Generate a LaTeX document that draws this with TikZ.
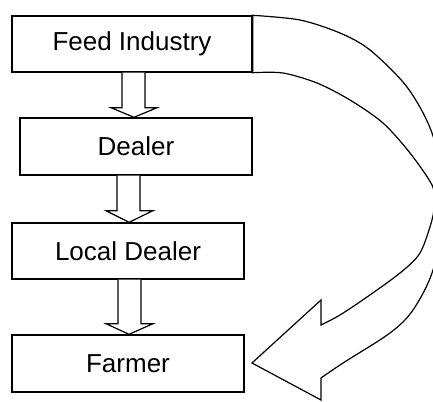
\documentclass[tikz,border=0pt]{standalone}
\usepackage{fontspec}
\setmainfont{Liberation Sans}
\usetikzlibrary{calc}
\begin{document}
\begin{tikzpicture}[x=1pt,y=-1pt,
  box/.style={draw, line width=1.4pt, inner sep=0pt, font=\fontsize{26}{30}\selectfont},
  blk/.style={draw, line width=1.2pt, line join=miter, fill=white},
  curvearrow/.style={draw, line width=1.2pt, line join=miter}]
\useasboundingbox (0,0) rectangle (433,401);
\clip (0,0) rectangle (433,401);
\node[box, minimum width=240pt, minimum height=56pt] (fi) at (132,44) {Feed Industry};
\node[box, minimum width=232pt, minimum height=57pt] (de) at (136,146.5) {Dealer};
\node[box, minimum width=232pt, minimum height=56pt] (ld) at (128,251) {Local Dealer};
\node[box, minimum width=232pt, minimum height=57pt] (fa) at (128,363.5) {Farmer};
% block arrows
\draw[blk] ($(fi.south)+(-10,0)$) -- ++(0,35) -- ++(-11,0) -- ($(de.north)+(-2,0)$)
  -- ($(fi.south)+(25,35)$) -- ++(-12,0) -- ($(fi.south)+(13,0)$);
\draw[blk] ($(de.south)+(-19,0)$) -- ++(0,35) -- ++(-11,0) -- ($(ld.north)+(1,0)$)
  -- ($(de.south)+(17,35)$) -- ++(-13,0) -- ($(de.south)+(4,0)$);
\draw[blk] ($(ld.south)+(-10,0)$) -- ++(0,44) -- ++(-12,0) -- ($(fa.north)+(1,0)$)
  -- ($(ld.south)+(25,44)$) -- ++(-12,0) -- ($(ld.south)+(13,0)$);
% curved arrow
\coordinate (tip) at (252,363);
\draw[curvearrow] (fi.north east) -- plot[smooth] coordinates {(fi.north east) (300,20) (340,33) (370,50) (407,87) (432,133) (447,200) (433,270) (413,310) (390,333) (343,363) (321,378)}
  -- (321,400) -- (tip) -- (321,300) -- (321,325)
  -- plot[smooth] coordinates {(321,325) (340,315) (367,297) (400,273) (420,253) (432,220) (434,203) (432,185) (410,153) (383,123) (350,100) (317,83) (283,73) (fi.south east)}
  -- cycle;
\end{tikzpicture}
\end{document}
